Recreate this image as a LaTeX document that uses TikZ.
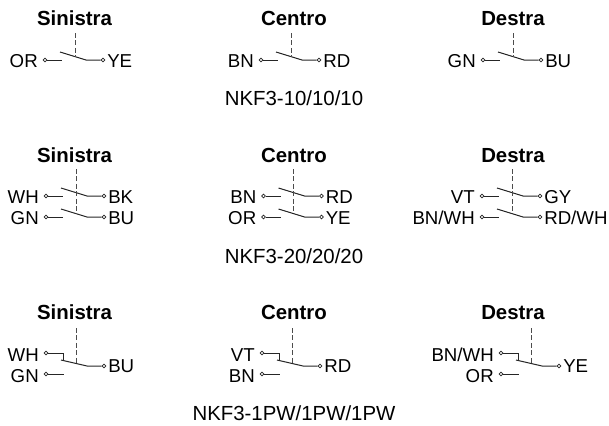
\documentclass[tikz,border=0pt]{standalone}
\usepackage{fontspec}
\setmainfont{Liberation Sans}
\tikzset{
  x=0.75pt,y=-0.75pt,
  wire/.style={line width=0.75pt,draw=black!85},
  term/.style={circle,draw=black!85,line width=0.6pt,inner sep=0pt,minimum size=2.8pt,fill=white},
  lab/.style={inner sep=0pt,font=\fontsize{14}{16}\selectfont},
  leftlab/.style={lab,anchor=base east},
  rightlab/.style={lab,anchor=base west},
  titlelab/.style={lab,anchor=base,font=\fontsize{15.3}{17}\selectfont\bfseries},
  caplab/.style={lab,anchor=base,font=\fontsize{15.3}{17}\selectfont},
  mech/.style={line width=0.75pt,draw=black!70,dash pattern=on 3.6pt off 2pt}
}
% name, x0, y, left label, right label
\newcommand{\swpair}[5]{%
  \node[term] (#1l) at (#2,#3) {};
  \coordinate (#1o) at (#2+17,#3);
  \coordinate (#1a) at (#2+15,#3-8);
  \coordinate (#1b) at (#2+41,#3);
  \node[term] (#1r) at (#2+58,#3) {};
  \draw[wire] (#1l) -- (#1o);
  \draw[wire] (#1a) -- (#1b) -- (#1r);
  \node[leftlab] (#1tl) at (#2-7,#3+7) {#4};
  \node[rightlab] (#1tr) at (#2+62,#3+7) {#5};
}
\newcommand{\swpw}[6]{%
  \node[term] (#1l) at (#2,#3) {};
  \coordinate (#1k) at (#2+17.5,#3);
  \coordinate (#1j) at (#2+17.5,#3+7.5);
  \coordinate (#1a) at (#2+15,#3+7);
  \coordinate (#1b) at (#2+41,#3+13);
  \node[term] (#1r) at (#2+58,#3+13) {};
  \node[term] (#1m) at (#2,#3+21) {};
  \coordinate (#1o) at (#2+17.5,#3+21);
  \draw[wire] (#1l) -- (#1k) -- (#1j);
  \draw[wire] (#1a) -- (#1b) -- (#1r);
  \draw[wire] (#1m) -- (#1o);
  \node[leftlab] (#1tl) at (#2-7,#3+8) {#4};
  \node[leftlab] (#1tm) at (#2-7,#3+29) {#5};
  \node[rightlab] (#1tr) at (#2+62,#3+19) {#6};
}
\begin{document}
\begin{tikzpicture}
\useasboundingbox (0,0) rectangle (609,425);
% titles
\node[titlelab] (t11) at (74.5,25) {Sinistra};
\node[titlelab] (t12) at (294,25) {Centro};
\node[titlelab] (t13) at (513,25) {Destra};
\node[titlelab] (t21) at (74.5,162) {Sinistra};
\node[titlelab] (t22) at (294,162) {Centro};
\node[titlelab] (t23) at (513,162) {Destra};
\node[titlelab] (t31) at (74.5,319) {Sinistra};
\node[titlelab] (t32) at (294,319) {Centro};
\node[titlelab] (t33) at (513,319) {Destra};
% captions
\node[caplab] (c1) at (294,105) {NKF3-10/10/10};
\node[caplab] (c2) at (294,263) {NKF3-20/20/20};
\node[caplab] (c3) at (294,420) {NKF3-1PW/1PW/1PW};
% row 1
\swpair{A}{45}{60}{OR}{YE}
\swpair{B}{261}{60}{BN}{RD}
\swpair{C}{483}{60}{GN}{BU}
\coordinate (Ad) at (75,33); \coordinate (Ae) at (75,57);
\coordinate (Bd) at (291,33); \coordinate (Be) at (291,57);
\coordinate (Cd) at (513,33); \coordinate (Ce) at (513,57);
\draw[mech] (Ad) -- (Ae);
\draw[mech] (Bd) -- (Be);
\draw[mech] (Cd) -- (Ce);
% row 2
\swpair{D}{46}{196}{WH}{BK}
\swpair{E}{46}{217}{GN}{BU}
\swpair{F}{263.5}{196}{BN}{RD}
\swpair{G}{263.5}{217}{OR}{YE}
\swpair{H}{482}{196}{VT}{GY}
\swpair{I}{482}{217}{BN/WH}{RD/WH}
\coordinate (Dd) at (76,169); \coordinate (De) at (76,211);
\coordinate (Fd) at (293.5,169); \coordinate (Fe) at (293.5,211);
\coordinate (Hd) at (512.5,169); \coordinate (He) at (512.5,211);
\draw[mech] (Dd) -- (De);
\draw[mech] (Fd) -- (Fe);
\draw[mech] (Hd) -- (He);
% row 3
\swpw{J}{46}{353}{WH}{GN}{BU}
\swpw{K}{262}{353}{VT}{BN}{RD}
\swpw{L}{501}{353}{BN/WH}{OR}{YE}
\coordinate (Jd) at (76,328); \coordinate (Je) at (76,363);
\coordinate (Kd) at (292.5,328); \coordinate (Ke) at (292.5,363);
\coordinate (Ld) at (531,328); \coordinate (Le) at (531,363);
\draw[mech] (Jd) -- (Je);
\draw[mech] (Kd) -- (Ke);
\draw[mech] (Ld) -- (Le);
\end{tikzpicture}
\end{document}
